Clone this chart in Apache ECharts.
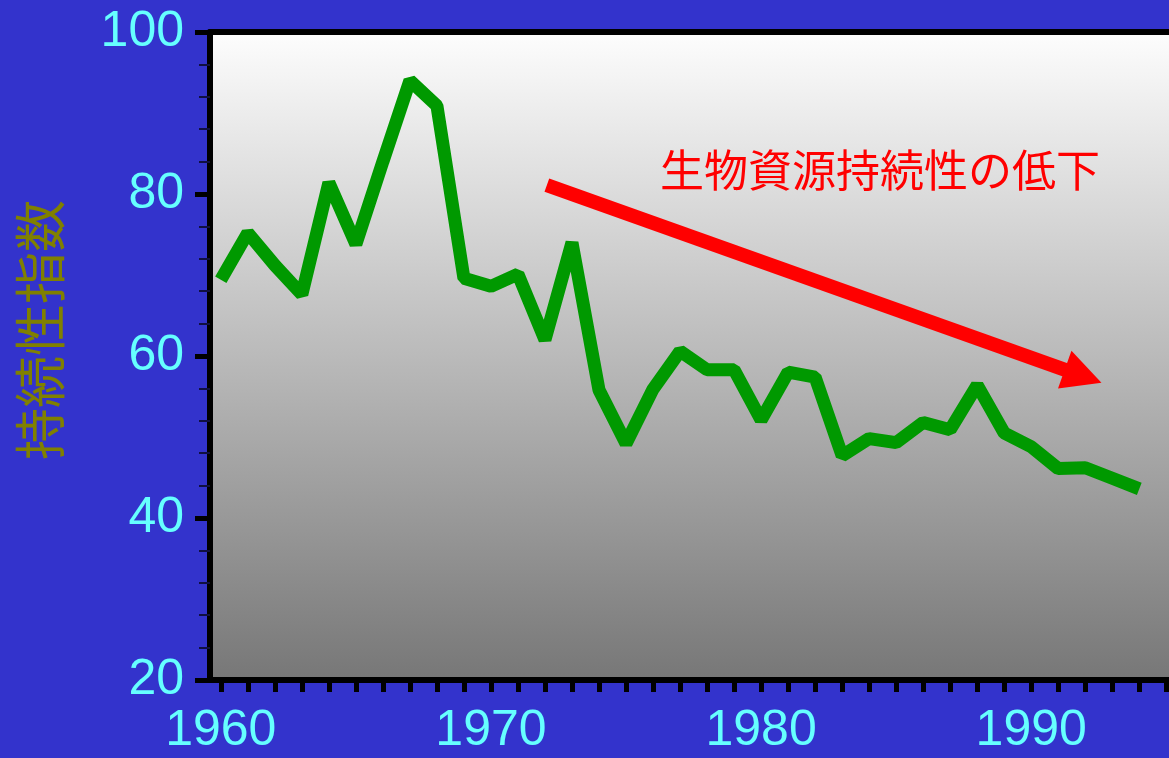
<!DOCTYPE html>
<html>
<head>
<meta charset="utf-8">
<script src="https://cdn.jsdelivr.net/npm/echarts@6/dist/echarts.min.js"></script>
<style>
html,body{margin:0;padding:0;background:#3333cc;}
#c{width:1169px;height:758px;}
</style>
</head>
<body>
<div id="c"></div>
<script>
const years = [1960,1961,1962,1963,1964,1965,1966,1967,1968,1969,1970,1971,1972,1973,1974,1975,1976,1977,1978,1979,1980,1981,1982,1983,1984,1985,1986,1987,1988,1989,1990,1991,1992,1993,1994];
const indexValues = [69.4,75.2,71.2,67.6,81.4,73.8,84.0,94.0,90.9,69.6,68.6,70.1,62.0,74.0,55.8,49.2,55.9,60.6,58.3,58.3,52.1,58.0,57.4,47.7,49.8,49.3,51.8,50.9,56.4,50.5,48.8,46.1,46.2,44.9,43.6];
const xTickValues = [1960,1961,1962,1963,1964,1965,1966,1967,1968,1969,1970,1971,1972,1973,1974,1975,1976,1977,1978,1979,1980,1981,1982,1983,1984,1985,1986,1987,1988,1989,1990,1991,1992,1993,1994,1995];
const xLabelValues = [1960,1970,1980,1990];
const yAxisTitle = '持続性指数';
const annotationText = '生物資源持続性の低下';
const arrowFrom = [1972.07, 81.1];
const arrowTo = [1992.6, 56.7];

const chart = echarts.init(document.getElementById('c'), null, {renderer:'canvas'});
const labelFont = {color:'#66ffff', fontSize:50, fontFamily:'Liberation Sans'};
const option = {
  backgroundColor:'#3333cc',
  animation:false,
  grid:{left:210, top:32, right:0, bottom:78, show:true, borderWidth:0,
    backgroundColor:{type:'linear', x:0, y:0, x2:0, y2:1, colorStops:[{offset:0,color:'#fdfdfd'},{offset:1,color:'#777777'}]}},
  xAxis:[{
    type:'value', min:1959.6, max:1995.1, position:'bottom',
    splitLine:{show:false},
    axisLine:{show:true, lineStyle:{color:'#000', width:6}},
    axisTick:{show:true, customValues:xTickValues, length:12, lineStyle:{color:'#000', width:5}},
    axisLabel:Object.assign({customValues:xLabelValues, margin:26, formatter:v=>String(v)}, labelFont)
  },{
    type:'value', min:1959.6, max:1995.1, position:'top',
    splitLine:{show:false},
    axisLine:{show:true, lineStyle:{color:'#000', width:6}},
    axisTick:{show:false}, axisLabel:{show:false}
  }],
  yAxis:{
    type:'value', min:20, max:100, interval:20,
    splitLine:{show:false},
    axisLine:{show:true, lineStyle:{color:'#000', width:6}},
    axisTick:{show:true, length:15, lineStyle:{color:'#000', width:5}},
    minorTick:{show:true, splitNumber:5, length:11, lineStyle:{color:'#101040', width:2}},
    axisLabel:Object.assign({margin:26}, labelFont)
  },
  series:[{
    type:'line', xAxisIndex:0,
    data:years.map((y,i)=>[y, indexValues[i]]),
    symbol:'none',
    lineStyle:{color:'#009900', width:13, join:'bevel', cap:'butt'},
    z:3
  }]
};
chart.setOption(option);

const p0 = chart.convertToPixel({xAxisIndex:0, yAxisIndex:0}, arrowFrom);
const p1 = chart.convertToPixel({xAxisIndex:0, yAxisIndex:0}, arrowTo);
const dx = p1[0]-p0[0], dy = p1[1]-p0[1];
const len = Math.sqrt(dx*dx+dy*dy);
const ux = dx/len, uy = dy/len;
const headLen = 39, headW = 40;
const bx = p1[0]-ux*headLen, by = p1[1]-uy*headLen;
const nx = -uy, ny = ux;

chart.setOption({
  graphic:[
    {type:'line', z:10, shape:{x1:p0[0], y1:p0[1], x2:bx+ux*2, y2:by+uy*2}, style:{stroke:'#ff0000', lineWidth:14, lineCap:'butt'}},
    {type:'polygon', z:10, shape:{points:[[p1[0],p1[1]],[bx+nx*headW/2, by+ny*headW/2],[bx-nx*headW/2, by-ny*headW/2]]}, style:{fill:'#ff0000'}},
    {type:'text', z:10, left:660, top:148, style:{text:annotationText, fill:'#ff0000', font:'44px "Noto Sans CJK JP"'}},
    {type:'text', z:10, x:40, y:330, rotation:Math.PI/2, style:{text:yAxisTitle, fill:'#808000', font:'52px "Noto Sans CJK JP"', align:'center', verticalAlign:'middle'}}
  ]
});
</script>
</body>
</html>
